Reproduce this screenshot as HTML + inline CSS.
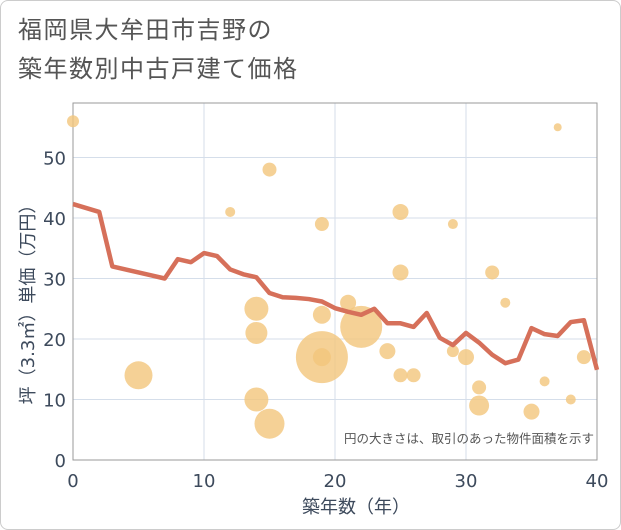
<!DOCTYPE html>
<html><head><meta charset="utf-8"><style>
body{margin:0;background:#fff;}
#wrap{position:relative;width:619px;height:528px;border:1px solid #ccc;border-radius:8px;overflow:hidden;background:#fff;font-family:"DejaVu Sans","Noto Sans CJK JP",sans-serif;}
.t{position:absolute;left:17px;color:#555;font-size:24px;line-height:1;font-family:"Liberation Sans","Noto Sans CJK JP",sans-serif;letter-spacing:1.5px;}
</style></head><body>
<div id="wrap">
<div class="t" style="top:18px">福岡県大牟田市吉野の</div>
<div class="t" style="top:57px">築年数別中古戸建て価格</div>
<svg id="chart" width="621" height="530" style="position:absolute;left:-1px;top:-1px"></svg>
</div>
<script>
const lineYears=[0,2,3,4,5,6,7,8,9,10,11,12,13,14,15,16,17,18,19,20,21,22,23,24,25,26,27,28,29,30,31,32,33,34,35,36,37,38,39,40];
const linePrices=[42.3,41,32,31.5,31,30.5,30,33.2,32.7,34.2,33.7,31.5,30.7,30.2,27.6,26.9,26.8,26.6,26.2,25.1,24.5,24,25,22.6,22.6,22,24.3,20.2,19,21,19.4,17.4,16,16.6,21.8,20.8,20.5,22.8,23.1,14.9];
const bubX=[0,5,12,14,14,14,15,15,19,19,19,19,21,22,24,25,25,25,26,29,29,30,31,31,32,33,35,36,37,38,39];
const bubY=[56,14,41,25,21,10,48,6,39,17,17,24,26,22,18,41,31,14,14,39,18,17,12,9,31,26,8,13,55,10,17];
const bubR=[6,14,5,12,11,12,7,15,7,26,9,9,8,21,8,8,8,7,7,5,6,8,7,10,7,5,8,5,4,5,7];
const xTicks=[0,10,20,30,40];
const yTicks=[0,10,20,30,40,50];
const NS='http://www.w3.org/2000/svg';
const svg=document.getElementById('chart');
const L=73,R=597,T=103,B=460;
const xs=v=>L+v*(R-L)/40;
const ys=v=>B-v*6.05;
function mk(tag,attrs){const e=document.createElementNS(NS,tag);for(const k in attrs)e.setAttribute(k,attrs[k]);svg.appendChild(e);return e;}
xTicks.forEach(t=>{
 const g=mk('line',{x1:xs(t),x2:xs(t),y1:T,y2:B,stroke:'#d5deea','stroke-width':1});
 
 
 const tx=mk('text',{x:xs(t),y:B+27,'text-anchor':'middle','font-size':18,fill:'#3d4a5c'});
 tx.textContent=t;
 
 
});
yTicks.forEach(t=>{
 const g=mk('line',{x1:L,x2:R,y1:ys(t),y2:ys(t),stroke:'#d5deea','stroke-width':1});
 
 
 const tx=mk('text',{x:L-7,y:ys(t)+7,'text-anchor':'end','font-size':18,fill:'#3d4a5c'});
 tx.textContent=t;
 
 
});
const fr=mk('rect',{x:L,y:T,width:R-L,height:B-T,fill:'none',stroke:'#999','stroke-width':1});


bubX.forEach((x,i)=>{
 const c=mk('circle',{cx:xs(x),cy:ys(bubY[i]),r:bubR[i],fill:'#f2c57c','fill-opacity':0.8});
 
 
});
const pts=lineYears.map((x,i)=>xs(x)+','+ys(linePrices[i])).join(' ');
const pl=mk('polyline',{points:pts,fill:'none',stroke:'#d6705a','stroke-width':4.5,'stroke-linejoin':'round'});


const note=mk('text',{x:594,y:443,'text-anchor':'end','font-size':12.5,fill:'#555'});
note.textContent='円の大きさは、取引のあった物件面積を示す';


const xt=mk('text',{x:356,y:513,'text-anchor':'middle','font-size':18,fill:'#3d4a5c'});
xt.textContent='築年数（年）';


const yt=mk('text',{x:0,y:0,'text-anchor':'middle','font-size':18,fill:'#3d4a5c',transform:'translate(34,300) rotate(-90)'});
yt.textContent='坪（3.3㎡）単価（万円）';


</script>
</body></html>
